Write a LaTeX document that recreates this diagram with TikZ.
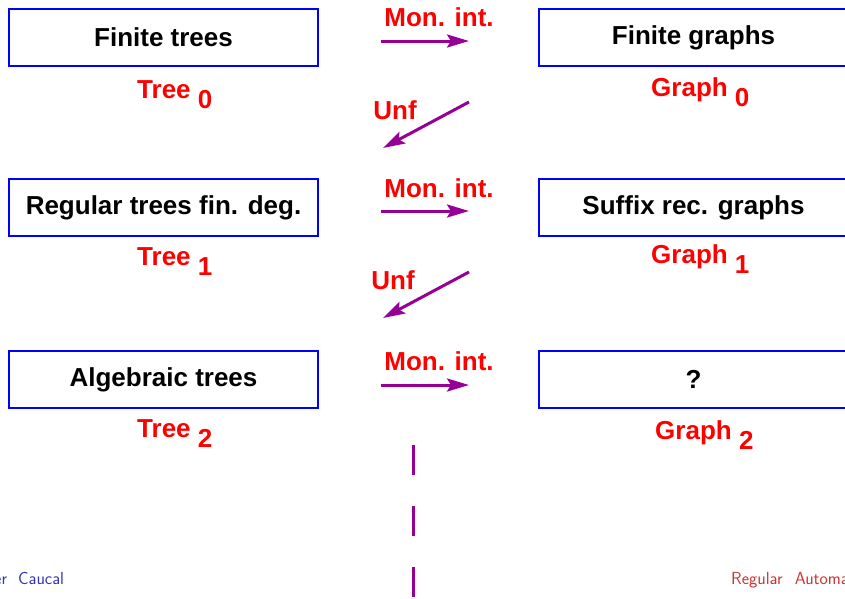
\documentclass[tikz,border=0pt]{standalone}
\usepackage{fontspec}
\setmainfont{Liberation Sans}
\usetikzlibrary{arrows.meta}
\definecolor{boxblue}{RGB}{0,0,255}
\definecolor{txtred}{RGB}{255,0,0}
\definecolor{arrpurple}{RGB}{150,0,150}
\definecolor{footblue}{RGB}{51,51,179}
\definecolor{footred}{RGB}{204,51,51}
\begin{document}
\begin{tikzpicture}[x=1pt,y=-1pt,
 box/.style={draw=boxblue,line width=2pt,minimum width=309pt,minimum height=57pt,inner sep=0pt,font=\fontsize{26}{30}\bfseries\selectfont},
 lbl/.style={text=txtred,font=\fontsize{26}{30}\bfseries\selectfont,inner sep=0pt},
 arr/.style={draw=arrpurple,line width=3pt,-{Stealth[length=22pt,width=13pt,inset=4pt]}},
 dashline/.style={draw=arrpurple,line width=3pt,dash pattern=on 30pt off 31pt},
 foot/.style={font=\fontsize{17.5}{20}\sffamily\selectfont,inner sep=0pt,anchor=base west}]
\clip (0,0) rectangle (845,598);
\fill[white] (0,0) rectangle (845,598);
% boxes
\node[box] (t0) at (163.5,37.5) {Finite trees};
\node[box] (g0) at (693.5,37.5) {Finite graphs};
\node[box] (t1) at (163.5,207.5) {Regular trees fin. deg.};
\node[box] (g1) at (693.5,207.5) {Suffix rec. graphs};
\node[box] (t2) at (163.5,379.5) {Algebraic trees};
\node[box] (g2) at (693.5,379.5) {?};
% class labels
\node[lbl,anchor=base west] (tl0) at (137,98) {Tree\ \raisebox{-10pt}{0}};
\node[lbl,anchor=base west] (gl0) at (651,96) {Graph\ \raisebox{-10pt}{0}};
\node[lbl,anchor=base west] (tl1) at (137,265) {Tree\ \raisebox{-10pt}{1}};
\node[lbl,anchor=base west] (gl1) at (651,263) {Graph\ \raisebox{-10pt}{1}};
\node[lbl,anchor=base west] (tl2) at (137,437) {Tree\ \raisebox{-10pt}{2}};
\node[lbl,anchor=base west] (gl2) at (655,439) {Graph\ \raisebox{-10pt}{2}};
% arrow labels
\node[lbl] (mi0) at (439,17) {Mon. int.};
\node[lbl] (mi1) at (439,188) {Mon. int.};
\node[lbl] (mi2) at (439,361) {Mon. int.};
\node[lbl] (u0) at (395,110) {Unf};
\node[lbl] (u1) at (393,280) {Unf};
% arrows
\coordinate (m0s) at (381,41); \coordinate (m0e) at (469,41);
\coordinate (m1s) at (381,211); \coordinate (m1e) at (469,211);
\coordinate (m2s) at (381,385); \coordinate (m2e) at (469,385);
\coordinate (u0s) at (469,102); \coordinate (u0e) at (383,148);
\coordinate (u1s) at (469,272); \coordinate (u1e) at (383,318);
\draw[arr] (m0s) -- (m0e);
\draw[arr] (m1s) -- (m1e);
\draw[arr] (m2s) -- (m2e);
\draw[arr] (u0s) -- (u0e);
\draw[arr] (u1s) -- (u1e);
% dashed continuation
\coordinate (d0) at (413,445); \coordinate (d1) at (413,610);
\draw[dashline] (d0) -- (d1);
% footer
\node[foot,text=footblue] (fl) at (-6,584) {er\hspace{11pt}Caucal};
\node[foot,text=footred] (fr) at (731,584) {Regular\hspace{12pt}Automa};
\end{tikzpicture}
\end{document}
